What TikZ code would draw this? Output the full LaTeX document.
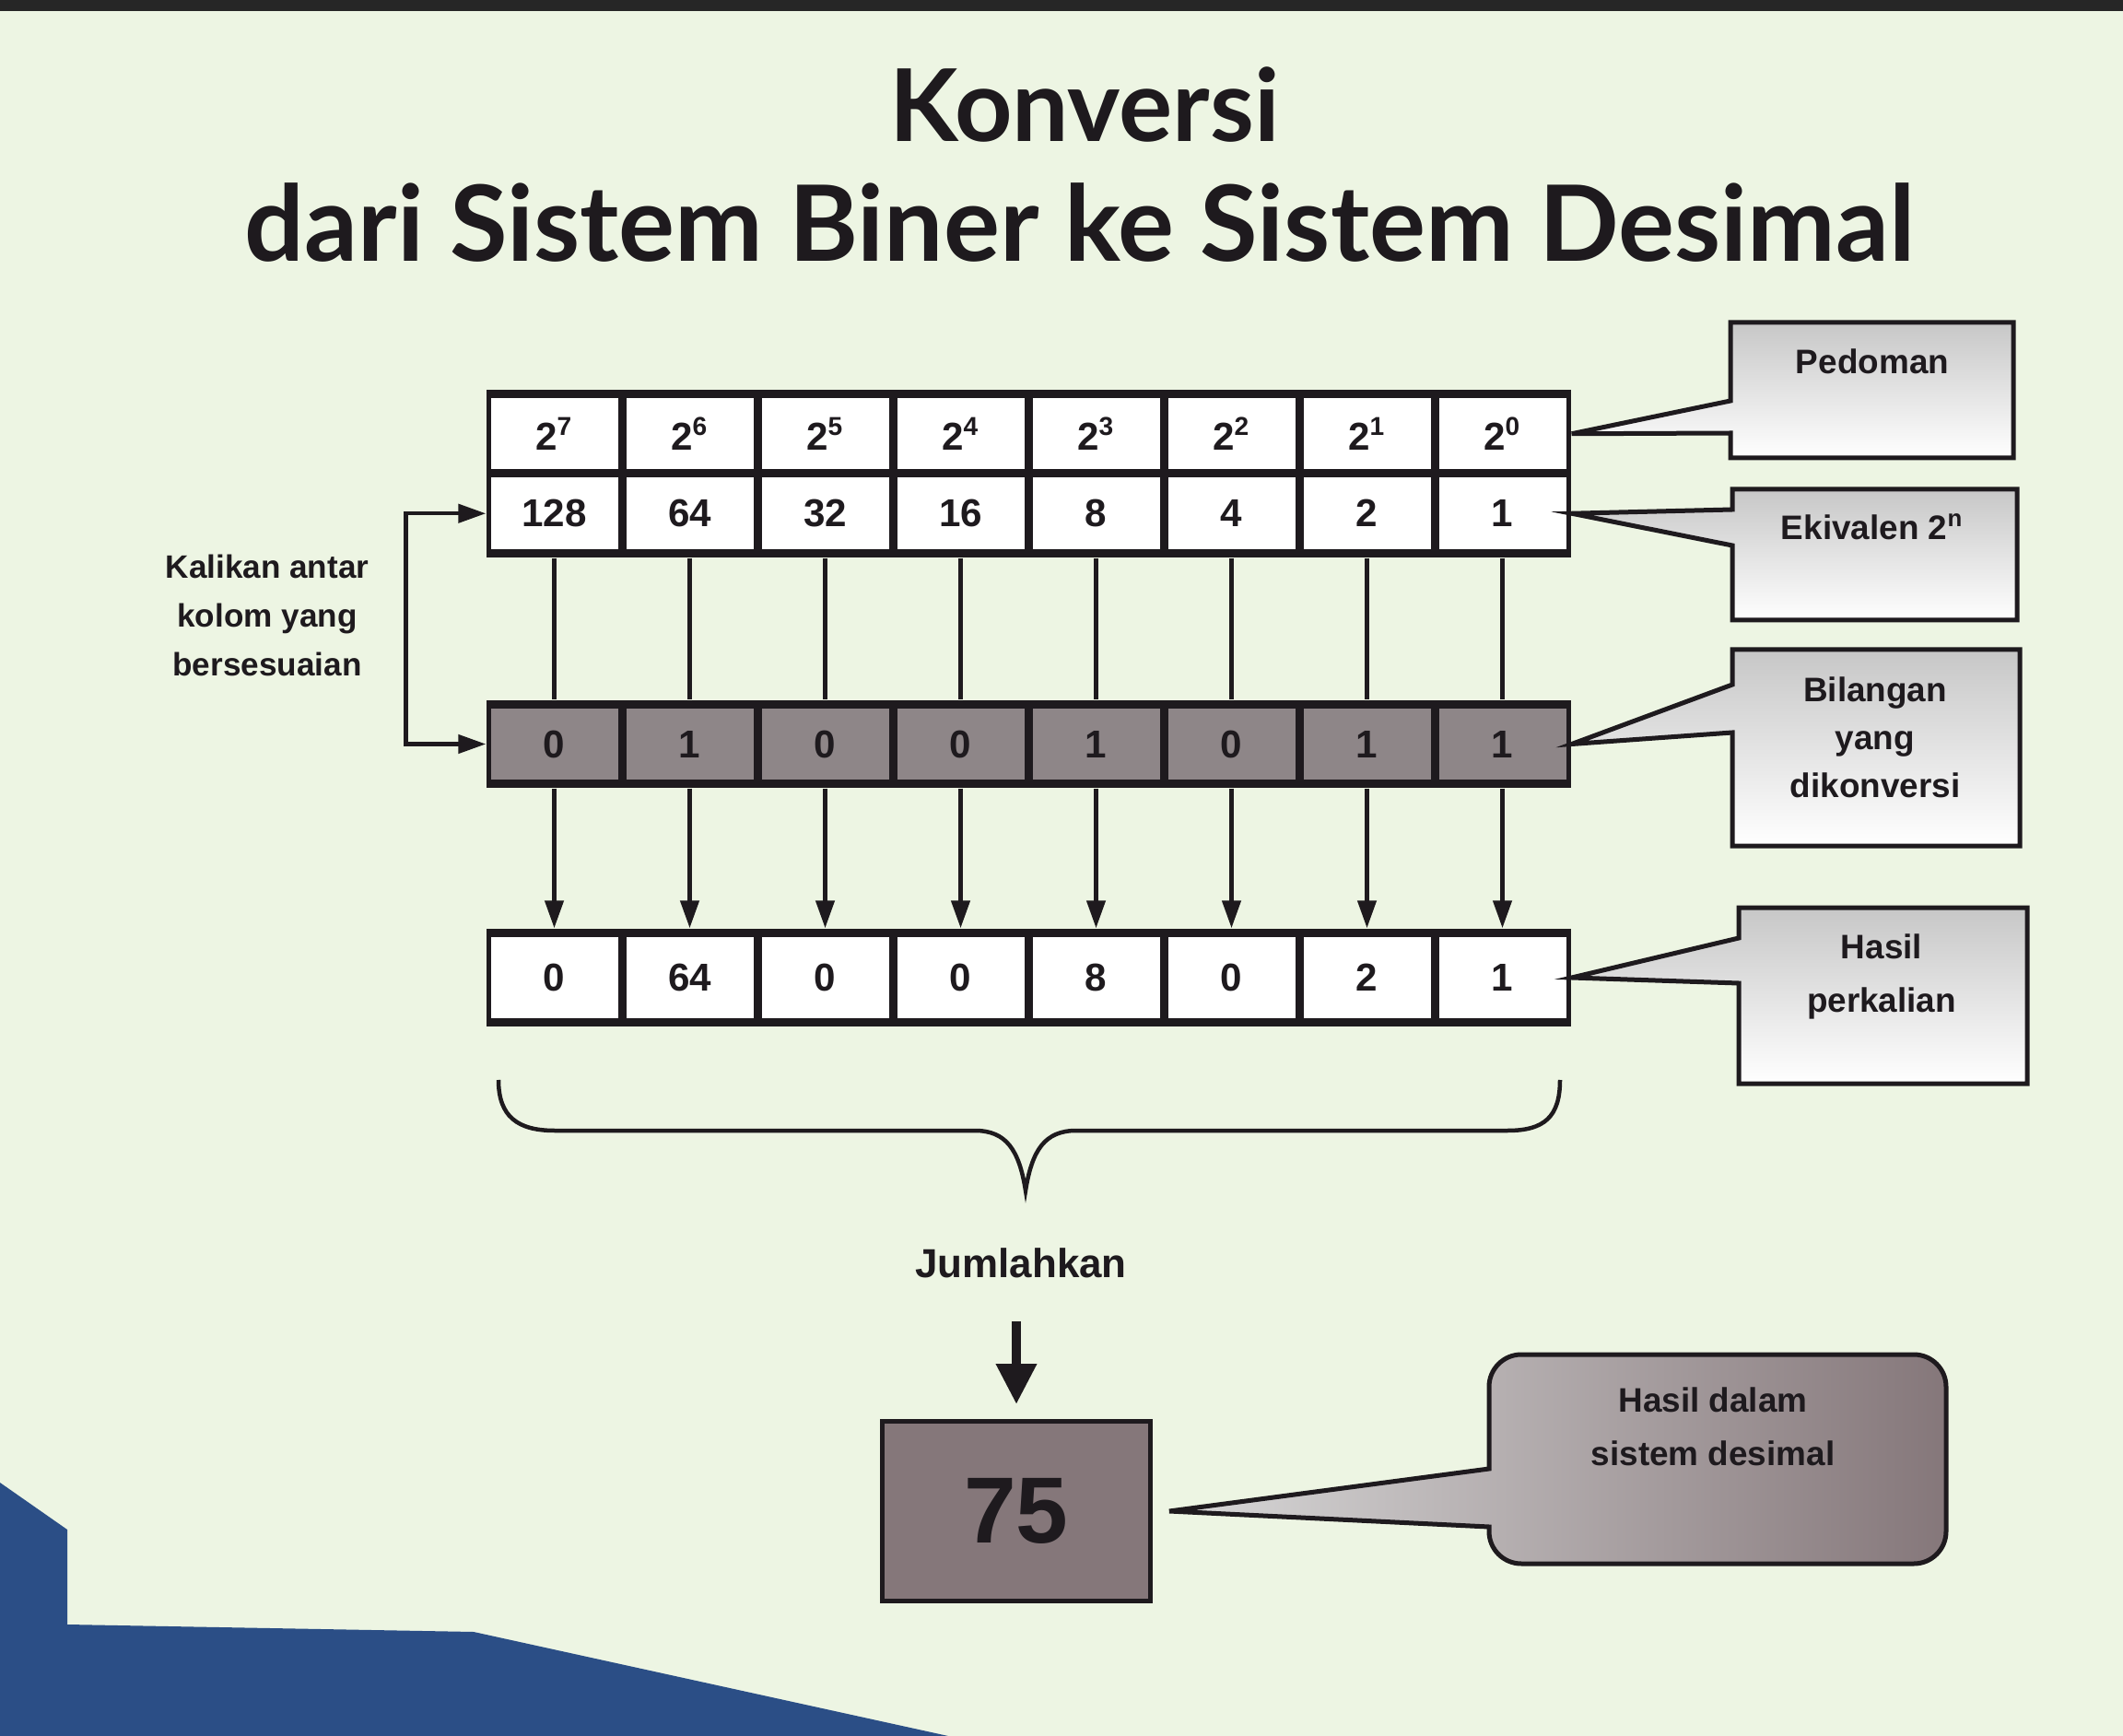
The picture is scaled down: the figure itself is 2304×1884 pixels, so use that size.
\documentclass[tikz,border=0pt]{standalone}
\usepackage{fontspec}
\setmainfont{Liberation Sans}
\newfontfamily\titlefont{Lato}
\usetikzlibrary{calc,positioning,arrows.meta}
\definecolor{ink}{HTML}{1E1A1E}
\definecolor{slide}{HTML}{EDF5E3}
\definecolor{bingray}{HTML}{8E8688}
\definecolor{sumfill}{HTML}{85777A}
\definecolor{screen}{HTML}{2B4E86}

\begin{document}
\begin{tikzpicture}[x=0.1mm, y=-0.1mm, >={Triangle[length=3mm,width=2mm]}]
    \tikzset{
        frame/.style  ={fill=ink, inner sep=0pt},
        cell/.style   ={fill=white, inner sep=0pt, minimum width=13.8mm,
                        text=ink, font=\bfseries\fontsize{12}{14}\selectfont},
        bincell/.style={cell, fill=bingray},
        conn/.style   ={draw=ink, line width=0.45mm},
        callout/.style={draw=ink, line width=0.5mm, top color=black!22, bottom color=white},
        lbl/.style    ={align=center, text=ink, font=\bfseries\fontsize{10.5}{14.8}\selectfont}
    }
    %% ---- Latar ----
    \useasboundingbox (0,0) rectangle (2304,1884);
    \fill[slide] (0,0) rectangle (2304,1884);
    \fill[black!85] (0,0) rectangle (2304,12);
    \fill[screen] (0,1609) -- (73,1660) -- (73,1763) -- (514,1771) -- (1029,1884) -- (0,1884) -- cycle;
    %% ---- Judul ----
    \node[anchor=base, text=ink, font=\titlefont\bfseries\fontsize{31}{36}\selectfont]
        (jdl1) at (1177,154) {Konversi};
    \node[anchor=base, text=ink, font=\titlefont\bfseries\fontsize{32.5}{38}\selectfont]
        (jdl2) at (1172,284) {dari Sistem Biner ke Sistem Desimal};
    %% ---- Tabel ----
    \node[frame, minimum width=117.7mm, minimum height=18.2mm] (tabA) at (1116.5,514) {};
    \node[frame, minimum width=117.7mm, minimum height=9.5mm]  (tabB) at (1116.5,807.5) {};
    \node[frame, minimum width=117.7mm, minimum height=10.6mm] (tabC) at (1116.5,1061) {};
    \foreach \e/\v/\b/\r [count=\i from 0] in
        {7/128/0/0, 6/64/1/64, 5/32/0/0, 4/16/0/0, 3/8/1/8, 2/4/0/0, 1/2/1/2, 0/1/1/1}{
        \node[cell, minimum height=7.75mm] (p\i) at ({601.5+147*\i},470.75) {2\textsuperscript{\e}};
        \node[cell, minimum height=7.75mm] (q\i) at ({601.5+147*\i},557.25) {\v};
        \node[bincell, minimum height=7.7mm] (b\i) at ({601.5+147*\i},807.5) {\b};
        \node[cell, minimum height=8.8mm] (r\i) at ({601.5+147*\i},1061) {\r};
        \draw[conn] (q\i.south |- tabA.south) -- (b\i.north |- tabB.north);
        \draw[conn, ->] (b\i.south |- tabB.south) -- (r\i.north |- tabC.north);
    }
    %% ---- Kalikan ----
    \draw[conn, <->] (q0.west -| tabA.west) -- ++(-87,0) |- (b0.west -| tabB.west);
    \node[lbl, font=\bfseries\fontsize{10}{15}\selectfont] (kali) at (290,668)
        {Kalikan antar\\kolom yang\\bersesuaian};
    %% ---- Kurung kurawal ----
    \draw[conn] (541,1172) .. controls (541,1212) and (562,1227) .. (602,1227)
        -- (1058,1227) .. controls (1092,1227) and (1106,1248) .. (1113,1292)
        .. controls (1120,1248) and (1134,1227) .. (1168,1227)
        -- (1636,1227) .. controls (1676,1227) and (1693,1212) .. (1693,1172);
    \node[lbl, font=\bfseries\fontsize{12.5}{14}\selectfont] (jml) at (1108,1371) {Jumlahkan};
    %% ---- Hasil ----
    \node[draw=ink, line width=0.5mm, fill=sumfill, minimum width=29.1mm, minimum height=19.5mm,
          text=ink, font=\bfseries\fontsize{29}{32}\selectfont] (hsl) at (1103,1640) {75};
    \draw[ink, line width=1mm, -{Triangle[length=4.4mm,width=4.2mm]},
          shorten <=3.4mm, shorten >=1.6mm] (jml.south -| hsl.north) -- (hsl.north);
    %% ---- Keterangan ----
    \draw[callout] (1878,435) -- (1878,350) -- (2185,350) -- (2185,497) -- (1878,497)
        -- (1878,470) -- (p7.east -| tabA.east) -- cycle;
    \draw[callout] (1880,553) -- (1880,531) -- (2189,531) -- (2189,673) -- (1880,673)
        -- (1880,592) -- (q7.east -| tabA.east) -- cycle;
    \draw[callout] (1880,743) -- (1880,705) -- (2192,705) -- (2192,918) -- (1880,918)
        -- (1880,795) -- (tabB.east) -- cycle;
    \draw[callout] (1887,1018) -- (1887,985) -- (2200,985) -- (2200,1176) -- (1887,1176)
        -- (1887,1067) -- (tabC.east) -- cycle;
    \draw[draw=ink, line width=0.5mm, left color=black!15, right color=sumfill]
        (1616,1594) {[rounded corners=3.5mm] -- (1616,1470) -- (2112,1470) -- (2112,1697)
        -- (1616,1697)} -- (1616,1657) -- ($(hsl.east)+(18,0)$) -- cycle;
    \node[lbl] (ped) at (2032,392) {Pedoman};
    \node[lbl] (eki) at (2032,572) {Ekivalen 2\textsuperscript{n}};
    \node[lbl] (bil) at (2035,800) {Bilangan\\yang\\dikonversi};
    \node[lbl, font=\bfseries\fontsize{10.5}{16.5}\selectfont] (kal) at (2042,1060) {Hasil\\perkalian};
    \node[lbl, font=\bfseries\fontsize{10.5}{16.5}\selectfont] (des) at (1859,1548) {Hasil dalam\\sistem desimal};
\end{tikzpicture}
\end{document}
